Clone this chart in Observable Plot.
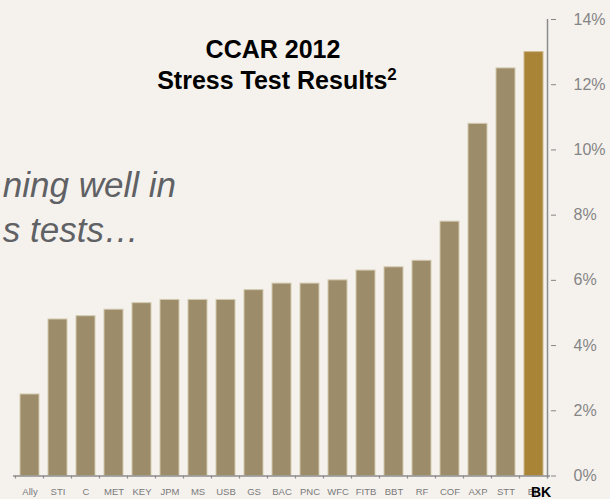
<!DOCTYPE html>
<html>
<head>
<meta charset="utf-8">
<script src="https://cdn.jsdelivr.net/npm/d3@7"></script>
<script src="https://cdn.jsdelivr.net/npm/@observablehq/plot@0.6"></script>
<style>
  html, body { margin: 0; padding: 0; background: #f5f2ee; overflow: hidden; }
  #chart { width: 610px; height: 499px; }
</style>
</head>
<body>
<div id="chart"></div>
<script>
const categories = ["Ally","STI","C","MET","KEY","JPM","MS","USB","GS","BAC","PNC","WFC","FITB","BBT","RF","COF","AXP","STT","BK"];
const values = [2.5,4.8,4.9,5.1,5.3,5.4,5.4,5.4,5.7,5.9,5.9,6.0,6.3,6.4,6.6,7.8,10.8,12.5,13.0];
const yTicks = [0,2,4,6,8,10,12,14];
const highlight = "BK";
const titleLines = ["CCAR 2012", "Stress Test Results"];
const titleSup = "2";
const noteLines = ["ning well in", "s tests…"];

const data = categories.map((name, i) => ({name, value: values[i]}));

const tan = "#9c8c69";
const gold = "#a98436";
const axisGray = "#8c8c8c";

const plot = Plot.plot({
  width: 610,
  height: 499,
  marginLeft: 13,
  marginRight: 60,
  marginTop: 19,
  marginBottom: 23.5,
  style: {background: "#f5f2ee", fontFamily: "'Liberation Sans', Arial, sans-serif", overflow: "hidden"},
  x: {domain: categories, paddingInner: 0.33, paddingOuter: 0.165, label: null},
  y: {domain: [0, 14], label: null},
  marks: [
    Plot.barY(data, {
      x: "name", y: "value",
      fill: d => d.name === highlight ? gold : tan,
      stroke: d => d.name === highlight ? "#cdb98c" : "#d3c9b0",
      strokeWidth: 1
    }),
    Plot.ruleY([0], {stroke: axisGray, strokeWidth: 1.3}),
    Plot.axisX({label: null, tickSize: 0, tickPadding: 12, fontSize: 9.5, color: "#7a7a7a", letterSpacing: 0.4}),
    Plot.axisY({label: null, anchor: "right", ticks: yTicks, tickFormat: d => d + "%", tickSize: 5, tickPadding: 18, fontSize: 16, color: "#858585"}),
    Plot.text([highlight], {x: d => d, y: () => 0, dy: 17, dx: -3, textAnchor: "start", fontWeight: "bold", fontSize: 14, fill: "#000"})
  ]
});

document.getElementById("chart").appendChild(plot);

// axis line and category boundary ticks, using Plot's own scales
const sx = plot.scale("x");
const sy = plot.scale("y");
const svg = d3.select(plot);
const y0 = sy.apply(0);
const y14 = sy.apply(14);
const step = sx.step;
const bw = sx.bandwidth;
const right = sx.apply(categories[categories.length - 1]) + bw / 2 + step / 2;

svg.append("line")
  .attr("x1", right).attr("x2", right)
  .attr("y1", y14).attr("y2", y0 + 3)
  .attr("stroke", axisGray).attr("stroke-width", 1.5);

svg.append("g").selectAll("line").data(categories).join("line")
  .attr("x1", d => sx.apply(d) + bw / 2 - step / 2)
  .attr("x2", d => sx.apply(d) + bw / 2 - step / 2)
  .attr("y1", y0).attr("y2", y0 + 3)
  .attr("stroke", axisGray).attr("stroke-width", 1.2);

// title
const title = svg.append("g")
  .attr("font-family", "'Liberation Sans', Arial, sans-serif")
  .attr("font-weight", "bold")
  .attr("font-size", 25)
  .attr("fill", "#000")
  .attr("text-anchor", "middle");
title.append("text").attr("x", 273).attr("y", 58).text(titleLines[0]);
const t2 = title.append("text").attr("x", 277).attr("y", 89);
t2.append("tspan").text(titleLines[1]);
t2.append("tspan").attr("font-size", 17).attr("dy", -9).text(titleSup);

// italic note (the reference shows only the right part of these lines)
const note = svg.append("g")
  .attr("font-family", "'Liberation Sans', Arial, sans-serif")
  .attr("font-style", "italic")
  .attr("font-size", 35)
  .attr("fill", "#606165")
  .attr("text-anchor", "end");
note.append("text").attr("x", 176).attr("y", 197).text(noteLines[0]);
note.append("text").attr("x", 139).attr("y", 242).text(noteLines[1]);
</script>
</body>
</html>
